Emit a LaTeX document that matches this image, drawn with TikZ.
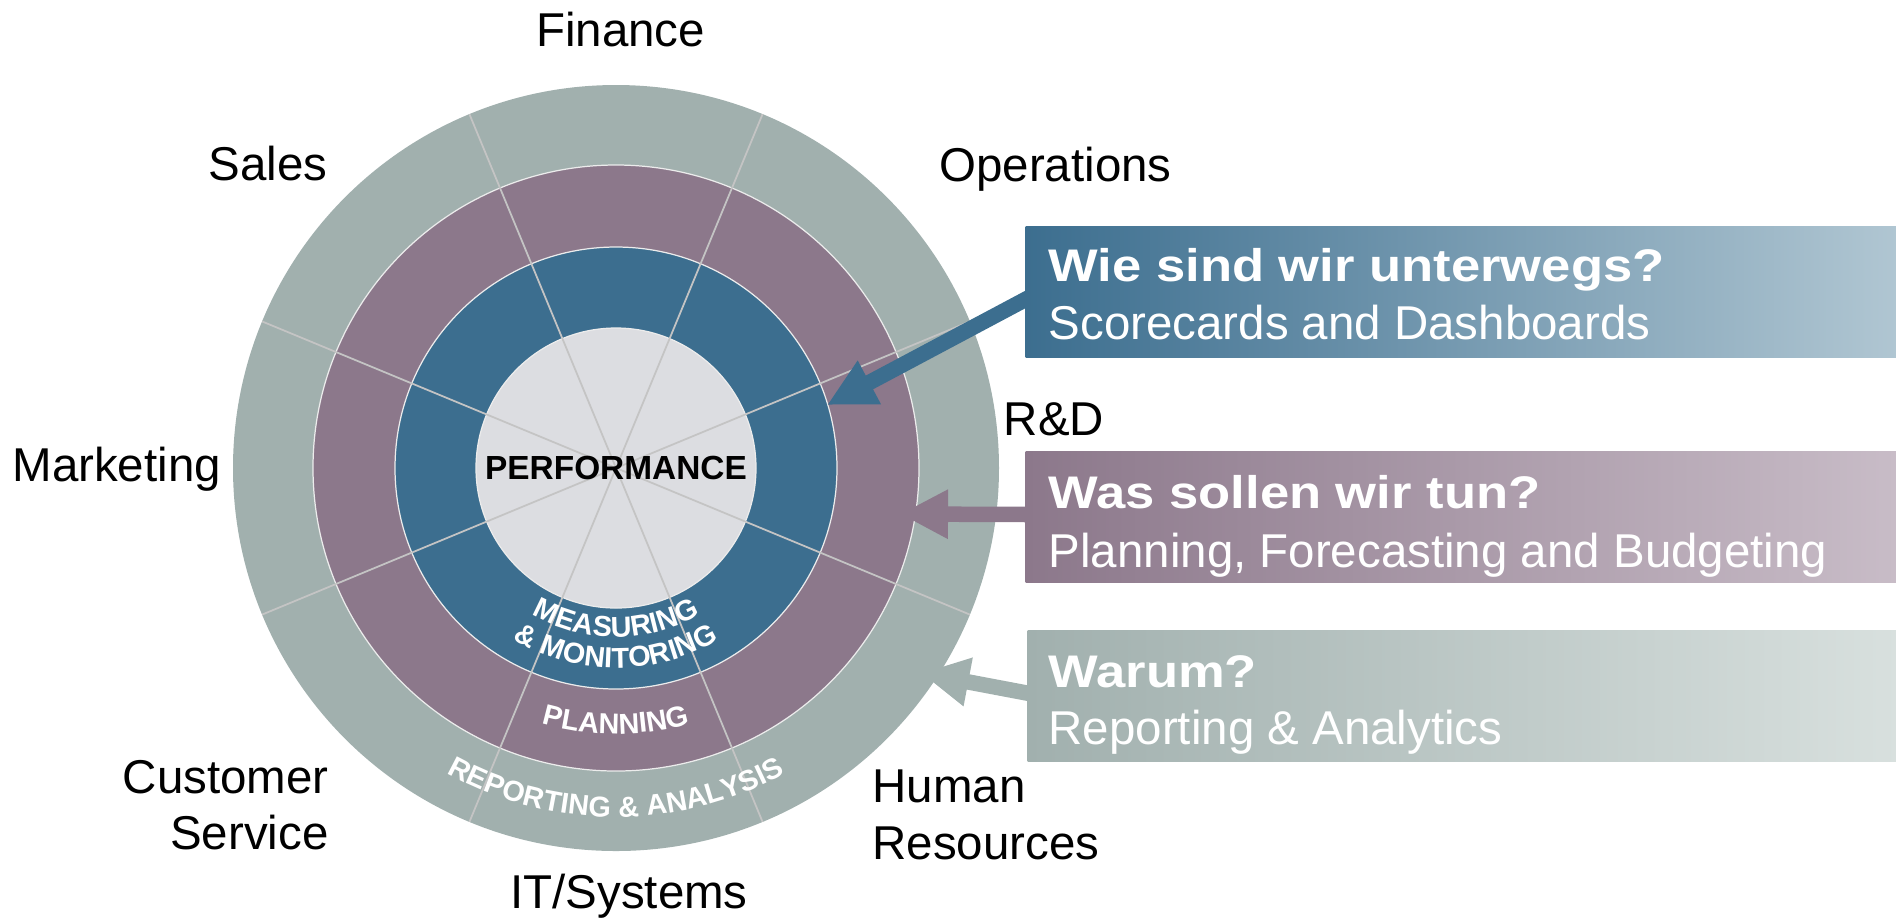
\documentclass[tikz,border=0pt]{standalone}
\usepackage{fontspec}
\setmainfont{Liberation Sans}
\newfontfamily\qtitlefont{Liberation Sans}[FakeStretch=1.15]
\usetikzlibrary{arrows.meta,decorations.text}

\definecolor{ringgray}{RGB}{161,176,174}
\definecolor{ringpurple}{RGB}{140,120,139}
\definecolor{ringblue}{RGB}{60,110,143}
\definecolor{corefill}{RGB}{220,221,225}
\definecolor{spokegray}{RGB}{196,196,196}
\definecolor{bluefade}{RGB}{176,198,210}
\definecolor{purplefade}{RGB}{200,188,199}
\definecolor{grayfade}{RGB}{216,224,222}

\newcommand\ringfont{\bfseries\fontsize{8.2}{10}\selectfont}

\begin{document}
\begin{tikzpicture}[x=0.01cm, y=0.01cm,
    lbl/.style={font=\fontsize{13.5}{16.1}\selectfont, inner sep=0},
    qbox/.style={anchor=north west, minimum width=8.71cm, minimum height=1.31cm, inner sep=0},
    qtitle/.style={anchor=base west, inner sep=0, text=white, font=\qtitlefont\bfseries\fontsize{13}{15}\selectfont},
    qsub/.style={anchor=base west, inner sep=0, text=white, font=\fontsize{13.5}{16}\selectfont},
    pointer/.style={line width=0.155cm, -{Triangle[length=0.48cm, width=0.46cm]}},
    ringline/.style={draw=white!85!gray, line width=0.35pt},
    spoke/.style={draw=spokegray, line width=0.5pt},
    ringtext/.style={decorate, decoration={text along path, text align=center, text={|\ringfont\color{white}|#1}}}]
    \useasboundingbox (0,0) rectangle (1896,-917);

    \coordinate (ctr) at (616,-468);
    \fill[ringgray] (ctr) circle (383);
    \fill[ringpurple, ringline] (ctr) circle (303);
    \fill[ringblue, ringline] (ctr) circle (221);
    \fill[corefill, ringline] (ctr) circle (140);
    \foreach \a in {22.5,67.5,...,337.5}
        \draw[spoke] (ctr) -- ++(\a:383);

    \node[font=\bfseries\fontsize{9.5}{11}\selectfont, inner sep=0] (perf) at (ctr) {PERFORMANCE};
    \path[ringtext={MEASURING}] ([shift={(230:169)}]ctr) arc[start angle=230, end angle=310, radius=169];
    \path[ringtext={{\&} MONITORING}] ([shift={(225:200)}]ctr) arc[start angle=225, end angle=315, radius=200];
    \path[ringtext={PLANNING}] ([shift={(235:266)}]ctr) arc[start angle=235, end angle=305, radius=266];
    \path[ringtext={REPORTING {\&} ANALYSIS}] ([shift={(225:349)}]ctr) arc[start angle=225, end angle=315, radius=349];

    \node[lbl, anchor=base] (fin) at (620.7,-46.7) {Finance};
    \node[lbl, anchor=base] (sal) at (268,-180) {Sales};
    \node[lbl, anchor=base] (ops) at (1055.5,-181.7) {Operations};
    \node[lbl, anchor=base] (rnd) at (1054,-435) {R\&D};
    \node[lbl, anchor=base] (mkt) at (116.7,-481.7) {Marketing};
    \node[lbl, anchor=north east, align=right] (cus) at (329.3,-759.5) {Customer\\Service};
    \node[lbl, anchor=north west, align=left] (hr) at (871.7,-769.5) {Human\\Resources};
    \node[lbl, anchor=base] (its) at (629,-908.3) {IT/Systems};

    \coordinate (t1) at (827,-405);
    \coordinate (t2) at (900,-514);
    \coordinate (t3) at (921,-673);
    \coordinate (s1) at (1030,-297);
    \coordinate (s2) at (1030,-514.5);
    \coordinate (s3) at (1032,-694);
    \draw[pointer, ringblue] (s1) -- (t1);
    \draw[pointer, ringpurple] (s2) -- (t2);
    \draw[pointer, ringgray] (s3) -- (t3);

    \node[qbox, left color=ringblue, right color=bluefade] (q1) at (1025,-226) {};
    \node[qbox, left color=ringpurple, right color=purplefade] (q2) at (1025,-451) {};
    \node[qbox, left color=ringgray, right color=grayfade] (q3) at (1027,-630) {};

    \node[qtitle] (q1a) at (1048,-281) {Wie sind wir unterwegs?};
    \node[qsub] (q1b) at (1048,-339) {Scorecards and Dashboards};
    \node[qtitle] (q2a) at (1048,-508) {Was sollen wir tun?};
    \node[qsub] (q2b) at (1048,-567) {Planning, Forecasting and Budgeting};
    \node[qtitle] (q3a) at (1048,-687) {Warum?};
    \node[qsub] (q3b) at (1048,-744) {Reporting \& Analytics};
\end{tikzpicture}
\end{document}
